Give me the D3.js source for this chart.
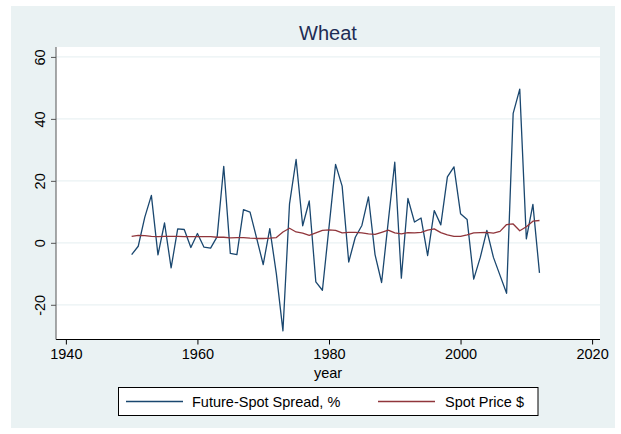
<!DOCTYPE html>
<html>
<head>
<meta charset="utf-8">
<script src="https://cdn.jsdelivr.net/npm/d3@7"></script>
<style>
  body { margin: 0; background: #fff; }
  text { font-family: "Liberation Sans", Arial, sans-serif; }
</style>
</head>
<body>
<div id="app"></div>
<script>
// data
let years = d3.range(1950, 2013)
let spread = [-3.8, -1.1, 8.3, 15.3, -3.9, 6.4, -8.1, 4.5, 4.3, -1.5,
  3.0, -1.4, -1.7, 2.0, 24.7, -3.4, -3.8, 10.7, 9.9, 1.5,
  -7.0, 4.6, -10.0, -28.4, 12.6, 26.9, 5.5, 13.5, -12.6, -15.3,
  5.0, 25.3, 18.3, -6.2, 1.8, 5.6, 14.8, -3.8, -12.8, 6.7,
  26.0, -11.4, 14.3, 6.7, 8.0, -4.1, 10.4, 5.8, 21.3, 24.5,
  9.4, 7.5, -11.7, -4.7, 4.0, -4.7, -10.5, -16.3, 41.8, 49.6,
  1.3, 12.4, -9.7]
let spot = [2.1, 2.4, 2.3, 2.1, 2.0, 2.1, 2.1, 2.1, 2.0, 2.0,
  2.0, 2.0, 2.0, 1.8, 1.8, 1.6, 1.7, 1.7, 1.5, 1.4,
  1.4, 1.5, 1.7, 3.5, 4.7, 3.5, 3.1, 2.4, 3.2, 4.0,
  4.2, 4.0, 3.2, 3.4, 3.4, 3.2, 2.9, 2.7, 3.4, 4.1,
  3.2, 2.9, 3.3, 3.2, 3.4, 4.1, 4.5, 3.3, 2.6, 2.1,
  2.1, 2.6, 3.2, 3.3, 3.4, 3.1, 3.7, 5.9, 6.1, 3.9,
  5.2, 7.0, 7.2]
let xTicks = [1940, 1960, 1980, 2000, 2020]
let yTicks = [-20, 0, 20, 40, 60]
let seriesNames = ["Future-Spot Spread, %", "Spot Price $"]
let seriesColors = ["#1a476f", "#90353b"]

let width = 621, height = 434
let plot = {left: 56, right: 600, top: 47, bottom: 339.5}

let svg = d3.select("#app").append("svg")
    .attr("width", width)
    .attr("height", height)

// outer graph region
svg.append("rect")
    .attr("x", 11).attr("y", 6)
    .attr("width", 604).attr("height", 422)
    .attr("fill", "#eaf2f3")

svg.append("rect")
    .attr("x", plot.left).attr("y", plot.top)
    .attr("width", plot.right - plot.left).attr("height", plot.bottom - plot.top)
    .attr("fill", "#fff")

let x = d3.scaleLinear().domain([1938.5, 2021.2]).range([plot.left, plot.right])
let y = d3.scaleLinear().domain([-31.2, 63.2]).range([plot.bottom, plot.top])

// gridlines
svg.append("g").selectAll("line")
    .data(yTicks)
    .enter().append("line")
    .attr("x1", plot.left).attr("x2", plot.right)
    .attr("y1", d => y(d)).attr("y2", d => y(d))
    .attr("stroke", "#eaf2f3")
    .attr("stroke-width", 1.2)

// lines
let rows = years.map((yr, i) => ({year: yr, spread: spread[i], spot: spot[i]}))
let keys = ["spread", "spot"]
keys.forEach((k, i) => {
    svg.append("path")
        .datum(rows)
        .attr("fill", "none")
        .attr("stroke", seriesColors[i])
        .attr("stroke-width", 1.3)
        .attr("stroke-linejoin", "round")
        .attr("d", d3.line().x(d => x(d.year)).y(d => y(d[k])))
})

// axes
let xAxis = svg.append("g")
    .attr("transform", "translate(0," + plot.bottom + ")")
    .call(d3.axisBottom(x).tickValues(xTicks).tickFormat(d => String(d)).tickSize(5).tickPadding(4))
xAxis.select(".domain").attr("d", "M" + plot.left + ",0H" + plot.right).attr("stroke", "#000")
xAxis.selectAll("text").attr("font-size", 14.5).attr("fill", "#000")

let yAxis = svg.append("g")
    .attr("transform", "translate(" + plot.left + ",0)")
    .call(d3.axisLeft(y).tickValues(yTicks).tickFormat(d => String(d)).tickSize(5).tickPadding(0))
yAxis.select(".domain").attr("d", "M0," + plot.top + "V" + plot.bottom).attr("stroke", "#555")
yAxis.selectAll(".tick line").attr("stroke", "#555")
yAxis.selectAll("text")
    .attr("font-size", 14.5).attr("fill", "#000")
    .attr("text-anchor", "middle")
    .attr("x", 0).attr("dy", 0)
    .attr("transform", "translate(-11,0) rotate(-90)")

// title + axis title
svg.append("text")
    .attr("x", (plot.left + plot.right) / 2).attr("y", 40)
    .attr("text-anchor", "middle")
    .attr("font-size", 20)
    .attr("fill", "#1e2c54")
    .text("Wheat")

svg.append("text")
    .attr("x", (plot.left + plot.right) / 2).attr("y", 378)
    .attr("text-anchor", "middle")
    .attr("font-size", 14.5)
    .text("year")

// legend
let legend = svg.append("g")
legend.append("rect")
    .attr("x", 118.5).attr("y", 387.5)
    .attr("width", 419.5).attr("height", 28)
    .attr("fill", "#fff").attr("stroke", "#000")
let legendItems = [{x1: 126, x2: 183, tx: 192}, {x1: 378, x2: 435, tx: 445}]
legendItems.forEach((li, i) => {
    legend.append("line")
        .attr("x1", li.x1).attr("x2", li.x2)
        .attr("y1", 401.5).attr("y2", 401.5)
        .attr("stroke", seriesColors[i]).attr("stroke-width", 1.3)
    legend.append("text")
        .attr("x", li.tx).attr("y", 406.5)
        .attr("font-size", 14.5)
        .text(seriesNames[i])
})
</script>
</body>
</html>
